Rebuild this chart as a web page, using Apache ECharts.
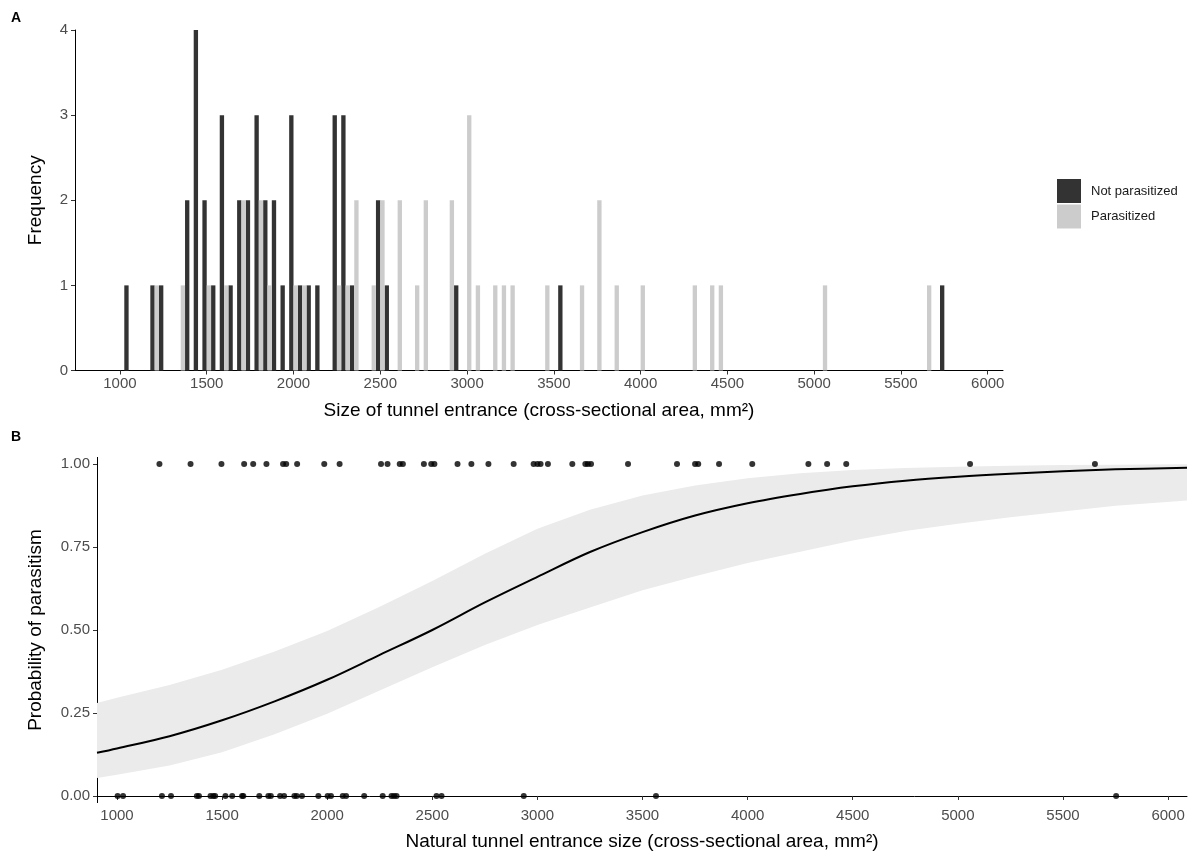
<!DOCTYPE html>
<html><head><meta charset="utf-8">
<script src="https://cdn.jsdelivr.net/npm/echarts@6/dist/echarts.min.js"></script>
<style>html,body{margin:0;padding:0;background:#fff}#c{width:1190px;height:853px}</style>
</head><body><div id="c"></div>
<script>
// ---------- data ----------
const xTicks = [1000, 1500, 2000, 2500, 3000, 3500, 4000, 4500, 5000, 5500, 6000];
const freqTicks = [0, 1, 2, 3, 4];
const probTicks = [0, 0.25, 0.5, 0.75, 1];
const binWidth = 50;

// Panel A histogram (bin centres and counts)
const notParCenters = [1050, 1200, 1250, 1400, 1450, 1500, 1550, 1600, 1650, 1700, 1750, 1800, 1850, 1900, 1950, 2000, 2050, 2100, 2150, 2250, 2300, 2350, 2500, 2550, 2950, 3550, 5750];
const notParCounts  = [1,    1,    1,    2,    4,    2,    1,    3,    1,    2,    2,    3,    2,    2,    1,    3,    1,    1,    1,    3,    3,    1,    2,    1,    1,    1,    1];
const parCenters = [1200, 1350, 1500, 1600, 1700, 1800, 1850, 2000, 2050, 2250, 2300, 2350, 2450, 2500, 2600, 2700, 2750, 2900, 3000, 3050, 3150, 3200, 3250, 3450, 3650, 3750, 3850, 4000, 4300, 4400, 4450, 5050, 5650];
const parCounts  = [1,    1,    1,    1,    2,    2,    1,    1,    1,    1,    1,    2,    1,    2,    2,    1,    2,    2,    3,    1,    1,    1,    1,    1,    1,    2,    1,    1,    1,    1,    1,    1,    1];

// Panel B observations
const parasitizedSizes = [1202, 1350, 1497, 1605, 1648, 1711, 1790, 1805, 1857, 1986, 2059, 2256, 2287, 2345, 2360, 2460, 2495, 2510, 2620, 2686, 2767, 2887, 2982, 3000, 3015, 3050, 3166, 3228, 3240, 3255, 3431, 3664, 3750, 3765, 3864, 4022, 4289, 4378, 4469, 5058, 5652];
const notParasitizedSizes = [1003, 1029, 1214, 1257, 1380, 1390, 1445, 1458, 1467, 1516, 1548, 1595, 1601, 1677, 1720, 1732, 1776, 1795, 1844, 1855, 1880, 1958, 2002, 2018, 2074, 2090, 2176, 2264, 2306, 2318, 2330, 2520, 2544, 2935, 3564, 5753];

// Panel B fitted curve and confidence band
const fitX     = [905,  1000, 1250, 1500, 1750, 2000, 2250, 2500, 2750, 3000, 3250, 3500, 3750, 4000, 4250, 4500, 4750, 5000, 5250, 5500, 5750, 6090];
const fitP     = [0.13, 0.143,0.18, 0.228,0.285,0.35, 0.425,0.5,  0.583,0.66, 0.735,0.795,0.845,0.882,0.91, 0.933,0.95, 0.962,0.971,0.978,0.984,0.989];
const fitLower = [0.054,0.064,0.092,0.132,0.186,0.248,0.318,0.388,0.455,0.515,0.568,0.62, 0.662,0.702,0.736,0.77, 0.798,0.82, 0.84, 0.857,0.874,0.89];
const fitUpper = [0.28, 0.296,0.334,0.38, 0.435,0.497,0.57, 0.648,0.73, 0.805,0.862,0.905,0.935,0.957,0.972,0.982,0.988,0.992,0.995,0.997,0.998,0.999];

// ---------- chart ----------
const DARK = '#333333', LIGHT = '#cccccc';
const tickColor = '#4d4d4d';
const FONT = 'Liberation Sans, Arial, sans-serif';
const TICK_FS = 15, TITLE_FS = 19;

function halfBar(side) {
  return function (params, api) {
    const c = api.value(0), n = api.value(1);
    const x0 = side < 0 ? c - binWidth / 2 : c;
    const x1 = side < 0 ? c : c + binWidth / 2;
    const p0 = api.coord([x0, n]);
    const p1 = api.coord([x1, 0]);
    return { type: 'rect', shape: { x: p0[0], y: p0[1], width: p1[0] - p0[0], height: p1[1] - p0[1] },
             style: { fill: api.visual('color') } };
  };
}

const axisLineStyle = { show: true, lineStyle: { color: '#000', width: 1 } };
const axisTickStyle = (vals) => ({ show: true, length: 4, lineStyle: { color: '#333', width: 1 }, customValues: vals });
const titleStyle = { fontSize: TITLE_FS, color: '#000', fontFamily: FONT };
const labelStyle = (vals, margin, fmt) => ({ customValues: vals, fontSize: TICK_FS, color: tickColor, margin: margin,
                                             fontFamily: FONT, formatter: fmt || (v => String(v)) });

const chart = echarts.init(document.getElementById('c'), null, { renderer: 'canvas' });
chart.setOption({
  animation: false,
  textStyle: { fontFamily: FONT },
  grid: [
    { left: 75, top: 30, right: 187, bottom: 482.5, containLabel: false },
    { left: 97, top: 457.4, right: 3, bottom: 50.4, containLabel: false }
  ],
  legend: {
    data: ['Not parasitized', 'Parasitized'],
    orient: 'vertical', left: 1052, top: 174,
    icon: 'rect', itemWidth: 24, itemHeight: 24, itemGap: 1.5,
    textStyle: { fontSize: 13, color: '#1a1a1a', fontFamily: FONT, padding: [0, 0, 0, 5] },
    selectedMode: false
  },
  xAxis: [
    { type: 'value', gridIndex: 0, min: 741, max: 6088,
      name: 'Size of tunnel entrance (cross-sectional area, mm²)', nameLocation: 'middle', nameGap: 31,
      nameTextStyle: titleStyle,
      axisLine: axisLineStyle, axisTick: axisTickStyle(xTicks),
      axisLabel: labelStyle(xTicks, 6),
      splitLine: { show: false } },
    { type: 'value', gridIndex: 1, min: 905, max: 6090,
      name: 'Natural tunnel entrance size (cross-sectional area, mm²)', nameLocation: 'middle', nameGap: 30,
      nameTextStyle: titleStyle,
      axisLine: axisLineStyle, axisTick: axisTickStyle(xTicks),
      axisLabel: labelStyle(xTicks, 6),
      splitLine: { show: false } }
  ],
  yAxis: [
    { type: 'value', gridIndex: 0, min: 0, max: 4,
      name: 'Frequency', nameLocation: 'middle', nameGap: 30,
      nameTextStyle: titleStyle,
      axisLine: axisLineStyle, axisTick: axisTickStyle(freqTicks),
      axisLabel: labelStyle(freqTicks, 7),
      splitLine: { show: false } },
    { type: 'value', gridIndex: 1, min: -0.02, max: 1.02,
      name: 'Probability of parasitism', nameLocation: 'middle', nameGap: 52,
      nameTextStyle: titleStyle,
      axisLine: axisLineStyle, axisTick: axisTickStyle(probTicks),
      axisLabel: labelStyle(probTicks, 7, v => v.toFixed(2)),
      splitLine: { show: false } }
  ],
  graphic: [
    { type: 'text', left: 11, top: 11, style: { text: 'A', font: 'bold 14px ' + FONT, fill: '#000' } },
    { type: 'text', left: 11, top: 430, style: { text: 'B', font: 'bold 14px ' + FONT, fill: '#000' } }
  ],
  series: [
    { name: 'Not parasitized', type: 'custom', xAxisIndex: 0, yAxisIndex: 0,
      itemStyle: { color: DARK }, renderItem: halfBar(-1), encode: { x: 0, y: 1 },
      data: notParCenters.map((c, i) => [c, notParCounts[i]]) },
    { name: 'Parasitized', type: 'custom', xAxisIndex: 0, yAxisIndex: 0,
      itemStyle: { color: LIGHT }, renderItem: halfBar(1), encode: { x: 0, y: 1 },
      data: parCenters.map((c, i) => [c, parCounts[i]]) },
    { name: 'band', type: 'custom', xAxisIndex: 1, yAxisIndex: 1, z: 1, silent: true,
      encode: { x: 0, y: 1 }, data: [[fitX[0], fitP[0]]],
      renderItem: function (params, api) {
        const pts = [];
        for (let i = 0; i < fitX.length; i++) pts.push(api.coord([fitX[i], fitUpper[i]]));
        for (let i = fitX.length - 1; i >= 0; i--) pts.push(api.coord([fitX[i], fitLower[i]]));
        return { type: 'polygon', shape: { points: pts }, style: { fill: '#ebebeb' } };
      } },
    { name: 'fit', type: 'line', xAxisIndex: 1, yAxisIndex: 1, z: 3, smooth: 0.35, symbol: 'none',
      lineStyle: { color: '#000', width: 2 },
      data: fitX.map((x, i) => [x, fitP[i]]) },
    { name: 'obs', type: 'scatter', xAxisIndex: 1, yAxisIndex: 1, z: 4, symbolSize: 6,
      itemStyle: { color: '#000' },
      data: parasitizedSizes.map(x => [x, 1]).concat(notParasitizedSizes.map(x => [x, 0])) }
  ]
});
</script></body></html>
